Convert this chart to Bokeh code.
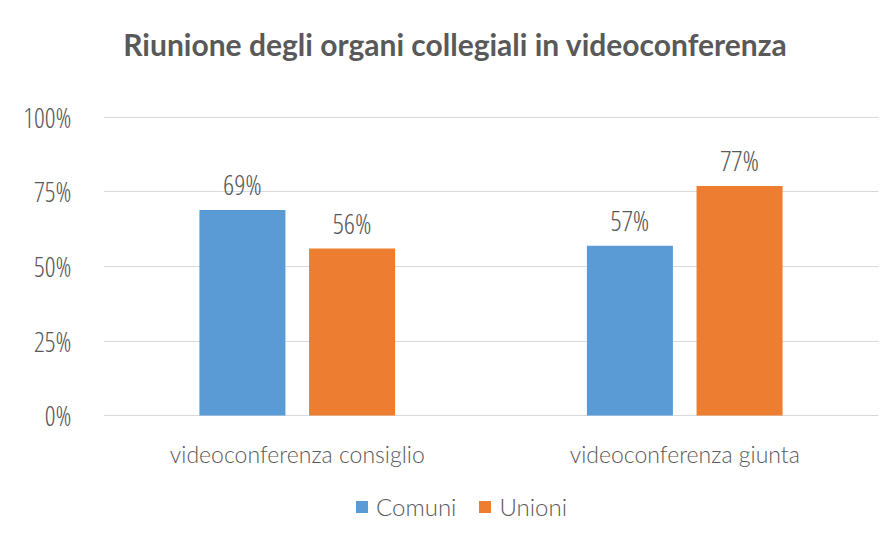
from bokeh.plotting import figure
from bokeh.models import FactorRange, Range1d, Label, Legend, LegendItem, NumeralTickFormatter, FixedTicker, ColumnDataSource
from bokeh.transform import dodge
from bokeh.core.properties import value
from bokeh.embed import file_html
from bokeh.resources import INLINE

title = "Riunione degli organi collegiali in videoconferenza"
categories = ["videoconferenza consiglio", "videoconferenza giunta"]
series = ["Comuni", "Unioni"]
comuni = [0.69, 0.57]
unioni = [0.56, 0.77]
y_ticks = [0, 0.25, 0.5, 0.75, 1.0]
colors = ["#5B9BD5", "#ED7D31"]

FONT = "'Open Sans Condensed Light', 'Open Sans Condensed', 'Lato Light', sans-serif"
FONT_L = "'Lato Light', Lato, sans-serif"
FONT_T = "Lato, sans-serif"
TXT = "#595959"

src = ColumnDataSource(dict(
    cat=categories, comuni=comuni, unioni=unioni,
    comuni_lbl=[f"{round(v*100)}%" for v in comuni],
    unioni_lbl=[f"{round(v*100)}%" for v in unioni],
))

p = figure(width=879, height=525, x_range=FactorRange(*categories), y_range=Range1d(-0.3691, 1.3926),
           output_backend="svg", toolbar_location=None,
           min_border_left=103, min_border_right=1, min_border_top=0, min_border_bottom=0)
p.outline_line_color = None
p.background_fill_color = "white"
p.xaxis.visible = False

off = 0.1415
w = 0.222
r1 = p.vbar(x=dodge("cat", -off, range=p.x_range), top="comuni", width=w, source=src,
            fill_color=colors[0], line_color=None)
r2 = p.vbar(x=dodge("cat", off, range=p.x_range), top="unioni", width=w, source=src,
            fill_color=colors[1], line_color=None)

for col, lbl, o in (("comuni", "comuni_lbl", -off), ("unioni", "unioni_lbl", off)):
    p.text(x=dodge("cat", o, range=p.x_range), y=col, text=lbl, source=src,
           y_offset=-26, text_align="center", text_baseline="alphabetic",
           text_font=value(FONT), text_font_size="28px", text_color=TXT)

# category labels (x axis)
p.text(x="cat", y=-0.1275, text="cat", source=src, text_align="center", text_baseline="alphabetic",
       text_font=value(FONT_L), text_font_size="23px", text_color=TXT)

p.yaxis.ticker = FixedTicker(ticks=y_ticks)
p.yaxis.formatter = NumeralTickFormatter(format="0%")
p.yaxis.axis_line_color = None
p.yaxis.major_tick_line_color = None
p.yaxis.minor_tick_line_color = None
p.yaxis.major_label_standoff = 26
p.yaxis.major_label_text_font = FONT
p.yaxis.major_label_text_font_size = "27px"
p.yaxis.major_label_text_color = TXT

p.xgrid.grid_line_color = None
p.ygrid.grid_line_color = "#d9d9d9"
p.ygrid.ticker = FixedTicker(ticks=y_ticks)

p.add_layout(Label(x=0.908, y=1.245, text=title, text_align="center", text_baseline="alphabetic",
                   text_font=FONT_T, text_font_size="30px", text_font_style="bold", text_color=TXT))

legend = Legend(items=[LegendItem(label=series[0], renderers=[r1]),
                       LegendItem(label=series[1], renderers=[r2])],
                orientation="horizontal", location=(251, 4),
                label_text_font=FONT_L, label_text_font_size="24px", label_text_color=TXT,
                glyph_width=15, glyph_height=15, spacing=21, label_standoff=7,
                border_line_color=None, background_fill_alpha=0, margin=0, padding=0)
p.add_layout(legend)

open("out.html", "w").write(file_html(p, INLINE))
